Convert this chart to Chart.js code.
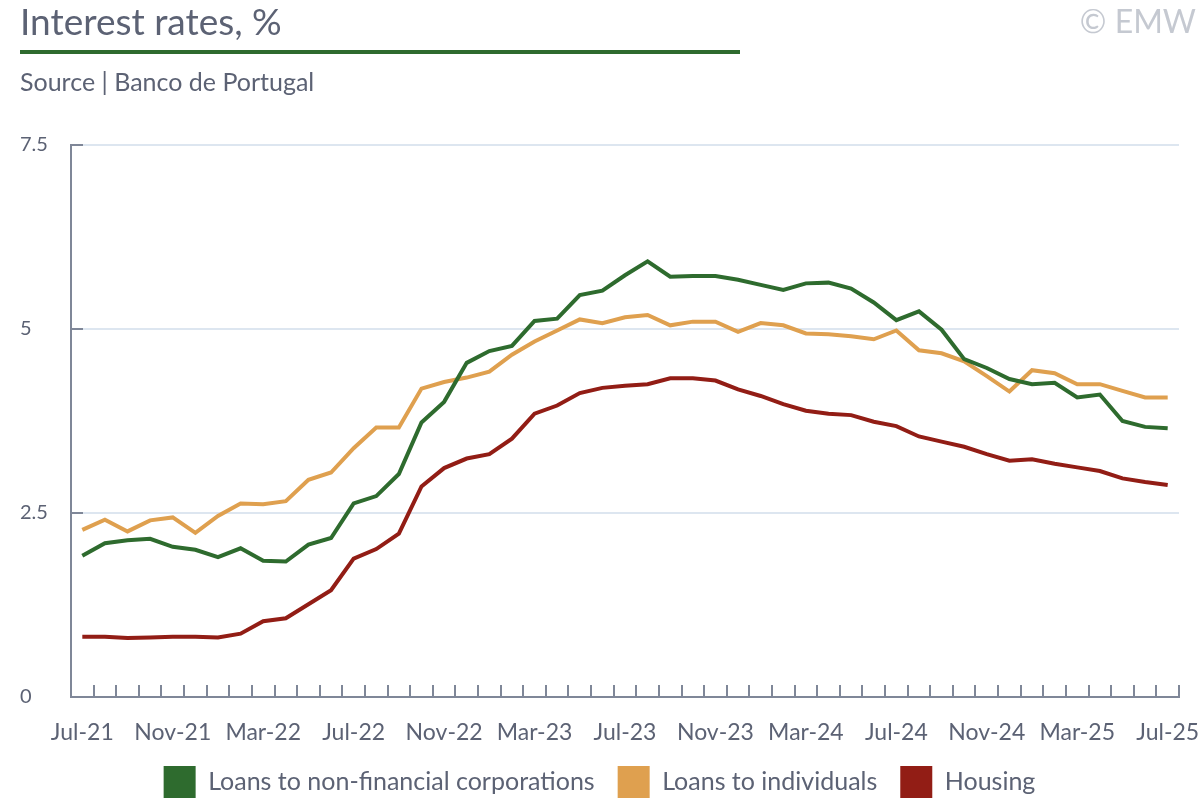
<!DOCTYPE html>
<html lang="en">
<head>
  <meta charset="UTF-8">
  <title>Interest rates, %</title>
  <script src="https://cdn.jsdelivr.net/npm/chart.js"></script>
  <style>
   html, body { margin: 0; padding: 0; width: 1200px; height: 800px; overflow: hidden; background: #fff; }
   body  { position: relative; font-family: Lato, "Open Sans", sans-serif; color: #5c6274; }
   #title  { position: absolute; left: 20px; top: -2px; font-size: 37px; line-height: 46px; white-space: nowrap; }
   #rule   { position: absolute; left: 20px; top: 50px; width: 720px; height: 4px; background: #2e6b2e; }
   #source { position: absolute; left: 20px; top: 66px; font-size: 25px; line-height: 30px; }
   #copy   { position: absolute; right: 4px; top: 0px; font-size: 32px; line-height: 42px; color: #c5c9d1; }
   #wrap   { position: absolute; left: 0; top: 0; width: 1200px; height: 808px; }
  </style>
</head>
<body>
  <div id="wrap"><canvas id="myChart"></canvas></div>
  <div id="title">Interest rates, %</div>
  <div id="rule"></div>
  <div id="source">Source | Banco de Portugal</div>
  <div id="copy">© EMW</div>

  <script>
    // monthly, Jul-21 .. Jul-25
    const months = [
      'Jul-21','Aug-21','Sep-21','Oct-21','Nov-21','Dec-21','Jan-22','Feb-22','Mar-22','Apr-22','May-22','Jun-22',
      'Jul-22','Aug-22','Sep-22','Oct-22','Nov-22','Dec-22','Jan-23','Feb-23','Mar-23','Apr-23','May-23','Jun-23',
      'Jul-23','Aug-23','Sep-23','Oct-23','Nov-23','Dec-23','Jan-24','Feb-24','Mar-24','Apr-24','May-24','Jun-24',
      'Jul-24','Aug-24','Sep-24','Oct-24','Nov-24','Dec-24','Jan-25','Feb-25','Mar-25','Apr-25','May-25','Jun-25',
      'Jul-25'
    ];
    const corporations = [
      1.92, 2.09, 2.13, 2.15, 2.04, 2.00, 1.90, 2.02, 1.85, 1.84, 2.07, 2.16,
      2.63, 2.73, 3.03, 3.73, 4.01, 4.54, 4.70, 4.77, 5.11, 5.14, 5.46, 5.52,
      5.73, 5.92, 5.71, 5.72, 5.72, 5.67, 5.60, 5.53, 5.62, 5.63, 5.55, 5.36,
      5.12, 5.24, 4.99, 4.59, 4.47, 4.32, 4.25, 4.27, 4.07, 4.11, 3.75, 3.67,
      3.65
    ];
    const individuals = [
      2.27, 2.41, 2.25, 2.40, 2.44, 2.23, 2.46, 2.63, 2.62, 2.66, 2.95, 3.05,
      3.38, 3.66, 3.66, 4.19, 4.28, 4.34, 4.42, 4.65, 4.83, 4.98, 5.13, 5.08,
      5.16, 5.19, 5.05, 5.10, 5.10, 4.96, 5.08, 5.05, 4.94, 4.93, 4.90, 4.86,
      4.98, 4.71, 4.67, 4.56, 4.36, 4.15, 4.44, 4.40, 4.25, 4.25, 4.16, 4.07,
      4.07
    ];
    const housing = [
      0.82, 0.82, 0.80, 0.81, 0.82, 0.82, 0.81, 0.86, 1.03, 1.07, 1.26, 1.45,
      1.88, 2.01, 2.22, 2.86, 3.11, 3.24, 3.30, 3.51, 3.85, 3.96, 4.13, 4.20,
      4.23, 4.25, 4.33, 4.33, 4.30, 4.18, 4.09, 3.98, 3.89, 3.85, 3.83, 3.74,
      3.68, 3.54, 3.47, 3.40, 3.30, 3.21, 3.23, 3.17, 3.12, 3.07, 2.97, 2.92,
      2.88
    ];
    const yTicks = [0, 2.5, 5, 7.5];

    const green = '#2e6b2e', orange = '#dfa04f', red = '#921d15';
    const axisColor = '#7f8798', gridColor = '#dde6f0', textColor = '#5c6274';

    // small tick marks pointing into the plot, like the original
    const innerTicks = {
      id: 'innerTicks',
      beforeDatasetsDraw(chart) {
        const { ctx, chartArea: a, scales: { x, y } } = chart;
        ctx.save();
        ctx.strokeStyle = axisColor; ctx.lineWidth = 2;
        ctx.beginPath();
        for (let i = 1; i <= months.length; i++) {
          const px = Math.round(x.getPixelForValue(i - 0.5));
          ctx.moveTo(px, a.bottom); ctx.lineTo(px, a.bottom - 12);
        }
        y.ticks.forEach(t => { const py = y.getPixelForValue(t.value); ctx.moveTo(a.left, py); ctx.lineTo(a.left + 12, py); });
        ctx.stroke();
        ctx.restore();
      }
    };

    const ctx = document.getElementById('myChart').getContext('2d');
    const myChart = new Chart(ctx, {
      type: 'line',
      data: {
        labels: months,
        datasets: [
          { label: 'Loans to non-financial corporations', data: corporations, borderColor: green, backgroundColor: green },
          { label: 'Loans to individuals', data: individuals, borderColor: orange, backgroundColor: orange },
          { label: 'Housing', data: housing, borderColor: red, backgroundColor: red }
        ]
      },
      options: {
        responsive: true,
        maintainAspectRatio: false,
        animation: false,
        elements: { line: { borderWidth: 4, tension: 0 }, point: { radius: 0 } },
        layout: { padding: { top: 145, left: 20, right: 21, bottom: 0 } },
        scales: {
          x: {
            offset: true,
            grid: { display: false, drawTicks: false },
            border: { display: true, color: axisColor, width: 2 },
            afterFit: function(scale) { scale.height = 46; scale.paddingLeft = 0; scale.paddingRight = 0; },
            ticks: {
              autoSkip: false, maxRotation: 0, padding: 22, color: textColor,
              font: { family: 'Lato', size: 23 },
              callback: function(value, index) { return index % 4 === 0 ? months[index] : ''; }
            }
          },
          y: {
            min: 0, max: 7.5,
            afterBuildTicks: function(scale) { scale.ticks = yTicks.map(v => ({ value: v })); },
            afterFit: function(scale) { scale.width = 51; },
            grid: { color: c => c.tick && c.tick.value === 0 ? 'rgba(0,0,0,0)' : gridColor, lineWidth: 2, drawTicks: false },
            border: { display: true, color: axisColor, width: 2 },
            ticks: { crossAlign: 'far', padding: 0, color: textColor, font: { family: 'Lato', size: 20 } }
          }
        },
        plugins: {
          tooltip: { enabled: false },
          legend: {
            display: true, position: 'bottom',
            labels: {
              boxWidth: 32, boxHeight: 32, padding: 23, color: textColor,
              font: { family: 'Lato', size: 25 },
              generateLabels: chart => Chart.defaults.plugins.legend.labels.generateLabels(chart)
                .map(l => Object.assign(l, { lineWidth: 0, fillStyle: l.strokeStyle }))
            }
          }
        }
      },
      plugins: [innerTicks]
    });
  </script>
</body>
</html>
